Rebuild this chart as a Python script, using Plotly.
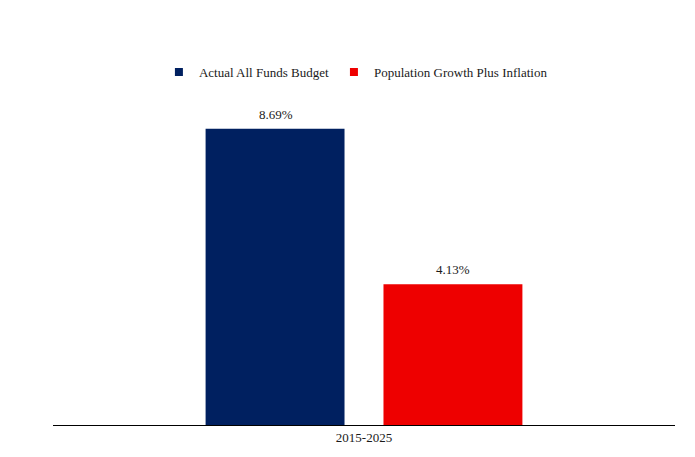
import plotly.graph_objects as go

PERIODS = ["2015-2025"]
SERIES = ["Actual All Funds Budget", "Population Growth Plus Inflation"]
GROWTH_PCT = [[8.69], [4.13]]
COLORS = ["#002060", "#EE0000"]

FONT = "Times New Roman"
TXT = "#1a1a1a"

fig = go.Figure()
for name, vals, color in zip(SERIES, GROWTH_PCT, COLORS):
    fig.add_trace(go.Bar(
        x=PERIODS, y=vals, name=name,
        marker=dict(color=color, line_width=0),
        showlegend=False,
    ))
    # small square legend key, like the original
    fig.add_trace(go.Scatter(
        x=[None], y=[None], mode="markers", name=name,
        marker=dict(symbol="square", size=8, color=color),
    ))

# value labels above the bars
for i, (vals, name) in enumerate(zip(GROWTH_PCT, SERIES)):
    for p, v in zip(PERIODS, vals):
        fig.add_annotation(
            x=p, y=v, text=f"{v:.2f}%", showarrow=False,
            xref="x", yref="y", yanchor="bottom", yshift=5,
            xshift=(-1 if i == 0 else 1) * 88.5,
            font=dict(family=FONT, size=13, color=TXT),
        )

fig.update_layout(
    width=695, height=457,
    margin=dict(l=45, r=28, t=76, b=40),
    barmode="group",
    bargap=0.428,
    bargroupgap=0.219,
    paper_bgcolor="white",
    plot_bgcolor="white",
    font=dict(family=FONT, size=13, color=TXT),
    showlegend=True,
    legend=dict(
        orientation="h", x=0.487, xanchor="center", y=1.035, yanchor="middle",
        font=dict(family=FONT, size=13, color=TXT),
        itemwidth=30, traceorder="normal",
    ),
    xaxis=dict(
        showline=True, linecolor="black", linewidth=1.2,
        ticks="", showgrid=False,
        tickfont=dict(family=FONT, size=13, color=TXT),
    ),
    yaxis=dict(
        range=[0, 10], visible=False, showgrid=False, zeroline=False,
    ),
)

fig.write_html("out.html")
